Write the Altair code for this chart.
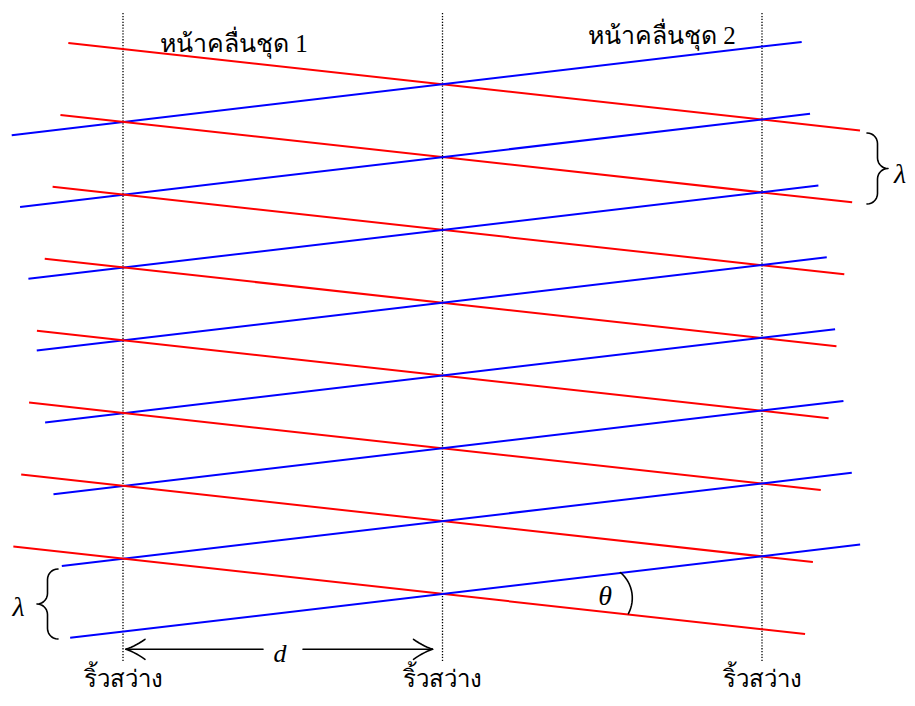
import math
import numpy as np
import pandas as pd
import altair as alt

# ---------------- data ----------------
FRONT_INDEX = [0, 1, 2, 3, 4, 5, 6, 7]          # wavefronts in each set
SLIT_MULTIPLE = [-1, 0, 1]                      # bright fringes at -d, 0, +d
FRINGE_LABEL = "ริ้วสว่าง"
FRONT_LABELS = ["หน้าคลื่นชุด 1", "หน้าคลื่นชุด 2"]
SYMBOL_LAMBDA = "λ"
SYMBOL_THETA = "θ"
SYMBOL_D = "d"

# geometry of the drawing (diagram units)
X_MID = 442.5          # centre fringe
D_SPACING = 319.5      # fringe spacing d
Y_FIRST = 84.3         # first crossing on the centre fringe
Y_STEP = 72.8          # crossing spacing along a fringe
SLOPE_RED = 0.1105
SLOPE_BLUE = -0.118
RED_X0, RED_DX, RED_LEN = 68.3, -7.85, 791.7
BLUE_X0, BLUE_DX, BLUE_LEN = 11.7, 8.35, 790.0
FRINGE_TOP, FRINGE_BOTTOM = 13.0, 662.0

RED = "#ff0000"
BLUE = "#0000ff"
BLACK = "#000000"

W, H = 899, 690
XS = alt.Scale(domain=[8, 8 + W], nice=False, zero=False)
YS = alt.Scale(domain=[8, 8 + H], nice=False, zero=False, reverse=True)

# ---------------- wavefront segments ----------------
rows = []
for k in FRONT_INDEX:
    yk = Y_FIRST + k * Y_STEP
    xs = RED_X0 + RED_DX * k
    xe = xs + RED_LEN
    rows.append(dict(x=xs, y=yk + SLOPE_RED * (xs - X_MID),
                     x2=xe, y2=yk + SLOPE_RED * (xe - X_MID), c=RED))
    xs = BLUE_X0 + BLUE_DX * k
    xe = xs + BLUE_LEN
    rows.append(dict(x=xs, y=yk + SLOPE_BLUE * (xs - X_MID),
                     x2=xe, y2=yk + SLOPE_BLUE * (xe - X_MID), c=BLUE))
fronts = pd.DataFrame(rows)

fronts_layer = alt.Chart(fronts).mark_rule(strokeWidth=2).encode(
    x=alt.X("x:Q", scale=XS, axis=None),
    y=alt.Y("y:Q", scale=YS, axis=None),
    x2="x2:Q", y2="y2:Q",
    color=alt.Color("c:N", scale=None),
)

# ---------------- fringe (dotted) lines ----------------
slit_x = [X_MID + m * D_SPACING for m in SLIT_MULTIPLE]
fringes = pd.DataFrame(dict(x=slit_x, y=[FRINGE_TOP] * 3, y2=[FRINGE_BOTTOM] * 3))
fringe_layer = alt.Chart(fringes).mark_rule(
    strokeWidth=1.3, strokeDash=[1.3, 1.6], color=BLACK
).encode(x=alt.X("x:Q", scale=XS, axis=None),
         y=alt.Y("y:Q", scale=YS, axis=None), y2="y2:Q")

# ---------------- curves: braces, arc, arrowheads ----------------
curve_rows = []


def add_curve(cid, pts):
    for i, (px, py) in enumerate(pts):
        curve_rows.append(dict(id=cid, i=i, x=px, y=py))


def arc(cx, cy, r, a0, a1, n=16):
    return [(cx + r * math.cos(math.radians(a)), cy + r * math.sin(math.radians(a)))
            for a in np.linspace(a0, a1, n)]


def brace(x_end, y_top, y_bot, width, side):
    r = width / 2.0
    s = side
    ym = (y_top + y_bot) / 2.0
    pts = []
    for t in np.linspace(-90, 0, 8):
        pts.append((x_end + s * r * math.cos(math.radians(t)),
                    y_top + r + r * math.sin(math.radians(t))))
    for t in np.linspace(180, 90, 8):
        pts.append((x_end + s * (2 * r + r * math.cos(math.radians(t))),
                    ym - r + r * math.sin(math.radians(t))))
    for t in np.linspace(-90, -180, 8):
        pts.append((x_end + s * (2 * r + r * math.cos(math.radians(t))),
                    ym + r + r * math.sin(math.radians(t))))
    for t in np.linspace(0, 90, 8):
        pts.append((x_end + s * r * math.cos(math.radians(t)),
                    y_bot - r + r * math.sin(math.radians(t))))
    return pts


def quad(p0, p1, p2, n=8):
    out = []
    for t in np.linspace(0, 1, n):
        out.append(((1 - t) ** 2 * p0[0] + 2 * (1 - t) * t * p1[0] + t ** 2 * p2[0],
                    (1 - t) ** 2 * p0[1] + 2 * (1 - t) * t * p1[1] + t ** 2 * p2[1]))
    return out


add_curve("brace_r", brace(867, 133, 204, 21, +1))
add_curve("brace_l", brace(58, 569, 639, 21, -1))
add_curve("theta_arc", arc(599, 598, 33.3, -50, 28))

ya = 649.3
left_tip = slit_x[0] + 3
right_tip = slit_x[1] - 10
add_curve("ah_l1", quad((left_tip + 19, ya - 10), (left_tip + 9, ya - 3), (left_tip, ya)))
add_curve("ah_l2", quad((left_tip + 19, ya + 10), (left_tip + 9, ya + 3), (left_tip, ya)))
add_curve("ah_r1", quad((right_tip - 19, ya - 10), (right_tip - 9, ya - 3), (right_tip, ya)))
add_curve("ah_r2", quad((right_tip - 19, ya + 10), (right_tip - 9, ya + 3), (right_tip, ya)))
add_curve("shaft_l", [(left_tip, ya), (263, ya)])
add_curve("shaft_r", [(303, ya), (right_tip, ya)])

curves = pd.DataFrame(curve_rows)
curve_layer = alt.Chart(curves).mark_line(
    color=BLACK, strokeWidth=1.6, strokeCap="round", strokeJoin="round"
).encode(
    x=alt.X("x:Q", scale=XS, axis=None),
    y=alt.Y("y:Q", scale=YS, axis=None),
    detail="id:N", order="i:Q",
)

# ---------------- text ----------------
SERIF = "Liberation Serif"
front_text = pd.DataFrame(dict(t=FRONT_LABELS, x=[160, 588], y=[52, 43.5]))
front_layer = alt.Chart(front_text).mark_text(
    align="left", baseline="alphabetic", font=SERIF, fontSize=25, color=BLACK
).encode(x=alt.X("x:Q", scale=XS, axis=None), y=alt.Y("y:Q", scale=YS, axis=None), text="t:N")

fringe_text = pd.DataFrame(dict(t=[FRINGE_LABEL] * 3, x=slit_x, y=[687] * 3))
fringe_text_layer = alt.Chart(fringe_text).mark_text(
    align="center", baseline="alphabetic", font=SERIF, fontSize=24, color=BLACK
).encode(x=alt.X("x:Q", scale=XS, axis=None), y=alt.Y("y:Q", scale=YS, axis=None), text="t:N")

sym = pd.DataFrame(dict(
    t=[SYMBOL_LAMBDA, SYMBOL_LAMBDA, SYMBOL_D, SYMBOL_THETA],
    x=[900, 18.5, 280, 605],
    y=[183, 616, 662, 605],
    s=[28, 28, 26, 28],
))
sym_layer = alt.Chart(sym).mark_text(
    align="center", baseline="alphabetic", font=SERIF, fontStyle="italic", color=BLACK
).encode(x=alt.X("x:Q", scale=XS, axis=None), y=alt.Y("y:Q", scale=YS, axis=None),
         text="t:N", size=alt.Size("s:Q", scale=None))

chart = alt.layer(
    fringe_layer, fronts_layer, curve_layer, front_layer, fringe_text_layer, sym_layer
).properties(
    width=W, height=H, padding=0,
    autosize=alt.AutoSizeParams(type="none"),
).configure_view(stroke=None)

chart.save("out.html", embed_options={"renderer": "svg", "actions": False})
